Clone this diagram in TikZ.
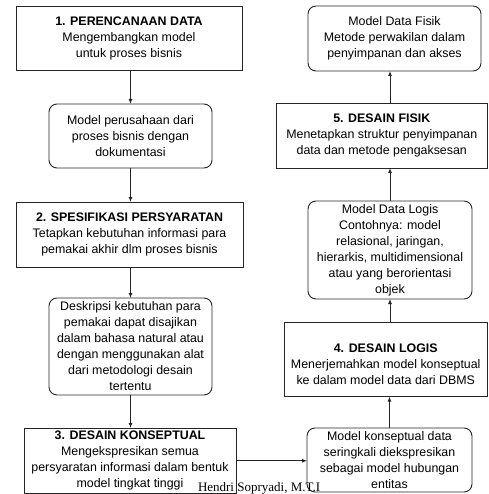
\documentclass[tikz,border=0pt]{standalone}
\usepackage{fontspec}
\setmainfont{Liberation Sans}
\newfontfamily\footserif{Liberation Serif}
\usetikzlibrary{arrows.meta}
\begin{document}
\begin{tikzpicture}[x=1pt,y=-1pt,
  every node/.style={inner sep=0pt, outer sep=0pt, align=center,
    font=\fontsize{12.4}{16}\selectfont},
  stagebox/.style={draw=black!85, line width=0.9pt, rectangle},
  resultbox/.style={draw=black!85, line width=0.9pt, rectangle, rounded corners=8pt},
  arr/.style={draw=black!85, line width=0.9pt, -{Latex[length=5pt,width=4pt]}}]
\useasboundingbox (0,0) rectangle (488,494);
\node[stagebox, minimum width=226pt, minimum height=64pt] (box1) at (129,38)
  {\textbf{1. PERENCANAAN DATA}\\Mengembangkan model\\untuk proses bisnis};
\node[resultbox, minimum width=163pt, minimum height=64pt] (r1) at (130.5,136)
  {Model perusahaan dari\\proses bisnis dengan\\dokumentasi};
\node[stagebox, minimum width=227pt, minimum height=65pt] (box2) at (129.5,234.5)
  {\textbf{2. SPESIFIKASI PERSYARATAN}\\Tetapkan kebutuhan informasi para\\pemakai akhir dlm proses bisnis};
\node[resultbox, minimum width=163pt, minimum height=97pt] (r2) at (130.5,346.5)
  {Deskripsi kebutuhan para\\pemakai dapat disajikan\\dalam bahasa natural atau\\dengan menggunakan alat\\dari metodologi desain\\tertentu};
\node[stagebox, minimum width=212pt, minimum height=65.5pt] (box3) at (130,460.75)
  {\textbf{3. DESAIN KONSEPTUAL}\\Mengekspresikan semua\\persyaratan informasi dalam bentuk\\model tingkat tinggi};
\node[resultbox, minimum width=173pt, minimum height=65pt] (rf) at (394.5,38.5)
  {Model Data Fisik\\Metode perwakilan dalam\\penyimpanan dan akses};
\node[stagebox, minimum width=211.5pt, minimum height=65pt] (box5) at (381.75,135.5)
  {\textbf{5. DESAIN FISIK}\\Menetapkan struktur penyimpanan\\data dan metode pengaksesan};
\node[resultbox, minimum width=164pt, minimum height=98pt] (rl) at (390,250)
  {Model Data Logis\\Contohnya: model\\relasional, jaringan,\\hierarkis, multidimensional\\atau yang berorientasi\\objek};
\node[stagebox, minimum width=203.5pt, minimum height=74.5pt] (box4) at (385.75,359.25) {};
\node (box4text) at (385.75,364)
  {\textbf{4. DESAIN LOGIS}\\Menerjemahkan model konseptual\\ke dalam model data dari DBMS};
\node[resultbox, minimum width=165pt, minimum height=64pt] (rk) at (389.5,460)
  {Model konseptual data\\seringkali diekspresikan\\sebagai model hubungan\\entitas};
\node[anchor=base west, font=\footserif\fontsize{13}{15}\selectfont] (foot) at (198,491)
  {Hendri Sopryadi, M.T.I};
% connectors
\draw[arr] (r1.north |- box1.south) -- (r1.north);
\draw[arr] (r1.south) -- (r1.south |- box2.north);
\draw[arr] (r2.north |- box2.south) -- (r2.north);
\draw[arr] (r2.south) -- (r2.south |- box3.north);
\draw[arr] (box3.east) -- (box3.east -| rk.west);
\draw[arr] (rk.north) -- (rk.north |- box4.south);
\draw[arr] (rl.south |- box4.north) -- (rl.south);
\draw[arr] (rl.north) -- (rl.north |- box5.south);
\draw[arr] (box5.north -| rl.north) -- (rf.south -| rl.north);
\end{tikzpicture}
\end{document}
